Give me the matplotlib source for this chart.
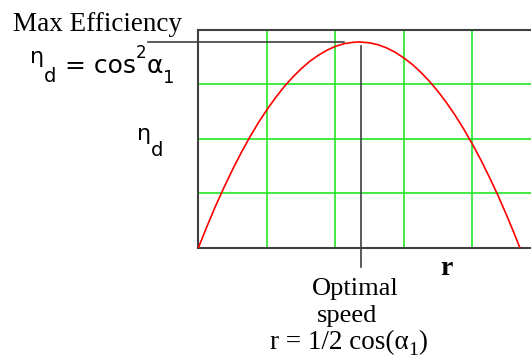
import numpy as np
import matplotlib.pyplot as plt

# velocity ratio r and diagram efficiency eta_d
r_vals = [0.0, 0.025, 0.05, 0.075, 0.10, 0.125, 0.15, 0.175, 0.20, 0.225, 0.25,
          0.275, 0.30, 0.325, 0.35, 0.375, 0.40, 0.425, 0.45, 0.469, 0.50,
          0.525, 0.55, 0.575, 0.60, 0.625, 0.65, 0.675, 0.70, 0.725, 0.75,
          0.775, 0.80, 0.825, 0.85, 0.875, 0.90, 0.92, 0.938]
eta_vals = [0.0, 0.098, 0.191, 0.278, 0.360, 0.437, 0.508, 0.574, 0.634, 0.689, 0.739,
            0.783, 0.822, 0.856, 0.884, 0.907, 0.925, 0.937, 0.943, 0.945, 0.941,
            0.932, 0.917, 0.897, 0.871, 0.841, 0.804, 0.763, 0.716, 0.664, 0.606,
            0.543, 0.474, 0.401, 0.321, 0.237, 0.147, 0.071, 0.0]

x_grid = [0.2, 0.4, 0.6, 0.8]
y_grid = [0.25, 0.5, 0.75]

W, H = 531, 361
serif = 'Liberation Serif'
sans = 'DejaVu Sans'

fig = plt.figure(figsize=(W / 100, H / 100), dpi=100)
ax = fig.add_axes([0.3738, 0.3144, 0.6262, 0.6025])

ax.set_xlim(0, 0.9708)
ax.set_ylim(0, 1.0)
for xg in x_grid:
    ax.axvline(xg, color='#22e622', lw=1.2, zorder=1)
for yg in y_grid:
    ax.axhline(yg, color='#22e622', lw=1.2, zorder=1)

ax.plot(r_vals, eta_vals, color='red', lw=1.2, zorder=3)

ax.set_xticks([])
ax.set_yticks([])
for side in ['left', 'top', 'bottom']:
    ax.spines[side].set_color('#404040')
    ax.spines[side].set_linewidth(1.5)
ax.spines['right'].set_visible(False)

# leader lines to the maximum
i_max = int(np.argmax(eta_vals))
r_opt = r_vals[i_max]
eta_max = eta_vals[i_max]
ax.plot([-0.147, r_opt - 0.045], [eta_max, eta_max], color='#404040', lw=1.2,
        clip_on=False, zorder=4)
ax.plot([r_opt + 0.005, r_opt + 0.005], [eta_max - 0.02, -0.088], color='#404040',
        lw=1.2, clip_on=False, zorder=4)

renderer = fig.canvas.get_renderer()


def put(x, y, s, size, family, **kw):
    # x, y in pixels from the top left corner, y is the baseline
    kw.setdefault('ha', 'left')
    return fig.text(x / W, 1 - y / H, s, fontsize=size, family=family,
                    va='baseline', **kw)


def chain(x, pieces, family):
    # write pieces one after another, each with its own size and baseline
    for s, size, y in pieces:
        t = put(x, y, s, size, family)
        x = t.get_window_extent(renderer).x1


put(13, 31, 'Max Efficiency', 19.5, serif)

chain(30, [('η', 16, 63), ('d', 14, 82), (' = cos', 18, 73), ('2', 12, 58),
           ('α', 18, 73), ('1', 13, 83)], sans)

chain(137, [('η', 16, 140), ('d', 14, 156)], sans)

put(440, 275, 'r', 20, serif, weight='bold')
put(355, 295, 'Optimal', 19, serif, ha='center')
put(347, 322, 'speed', 19, serif, ha='center')
chain(270, [('r = 1/2 cos(α', 19.5, 349), ('1', 14, 355), (')', 19.5, 349)], serif)

fig.savefig('out.png', dpi=100)
